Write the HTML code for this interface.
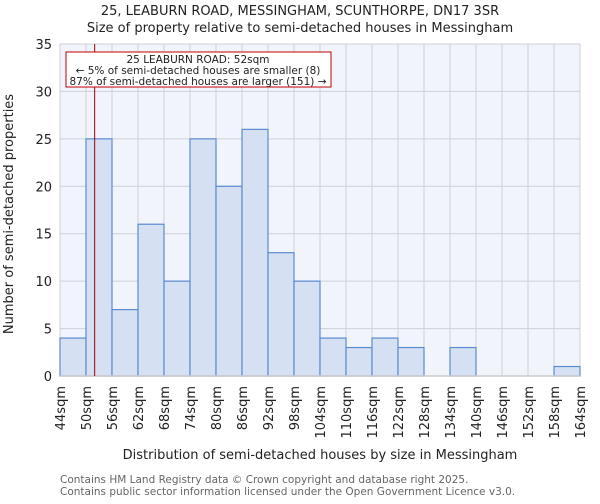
<!DOCTYPE html>
<html><head><meta charset="utf-8"><style>
body{margin:0;background:#fff;font-family:"DejaVu Sans","Liberation Sans",sans-serif}
</style></head><body>
<svg width="600" height="500" xmlns="http://www.w3.org/2000/svg" font-family="DejaVu Sans, Liberation Sans, sans-serif">
<text x="300" y="15" text-anchor="middle" font-size="13" fill="#222">25, LEABURN ROAD, MESSINGHAM, SCUNTHORPE, DN17 3SR</text>
<text x="300" y="32" text-anchor="middle" font-size="13" fill="#222">Size of property relative to semi-detached houses in Messingham</text>
<rect x="60" y="44" width="520" height="332" fill="#f1f4fb"/>
<g id="grid"></g><g id="bars"></g><g id="axes"></g>
<line id="marker" stroke="#a00000" stroke-width="1"/>
<rect x="66" y="52" width="265" height="35" fill="#fff" stroke="#c00000" stroke-width="1"/>
<text x="198" y="63" text-anchor="middle" font-size="10.5" fill="#222">25 LEABURN ROAD: 52sqm</text>
<text x="198" y="74" text-anchor="middle" font-size="10.5" fill="#222">← 5% of semi-detached houses are smaller (8)</text>
<text x="198" y="85" text-anchor="middle" font-size="10.5" fill="#222">87% of semi-detached houses are larger (151) →</text>
<text transform="translate(13,214) rotate(-90)" text-anchor="middle" font-size="13" fill="#222">Number of semi-detached properties</text>
<text x="320" y="459" text-anchor="middle" font-size="13" fill="#222">Distribution of semi-detached houses by size in Messingham</text>
<text x="60" y="483" font-size="10.5" fill="#666">Contains HM Land Registry data © Crown copyright and database right 2025.</text>
<text x="60" y="495" font-size="10.5" fill="#666">Contains public sector information licensed under the Open Government Licence v3.0.</text>
</svg>
<script>
const binEdges=[44,50,56,62,68,74,80,86,92,98,104,110,116,122,128,134,140,146,152,158,164];
const counts=[4,25,7,16,10,25,20,26,13,10,4,3,4,3,0,3,0,0,0,1];
const yTicks=[0,5,10,15,20,25,30,35];
const propertySize=52;
const X0=60,X1=580,Y0=376,Y1=44,xMin=44,xMax=164,yMax=35;
const NS="http://www.w3.org/2000/svg";
const xs=v=>X0+(v-xMin)/(xMax-xMin)*(X1-X0);
const ys=v=>Y0-v/yMax*(Y0-Y1);
function mk(t,a,p){const e=document.createElementNS(NS,t);for(const k in a)e.setAttribute(k,a[k]);p.appendChild(e);return e;}
const grid=document.getElementById('grid'),bars=document.getElementById('bars'),axes=document.getElementById('axes');
yTicks.forEach(t=>{
 const l=mk('line',{x1:X0,x2:X1,y1:ys(t),y2:ys(t),stroke:'#d0d0d8','stroke-width':1},grid);
 
 
 const tx=mk('text',{x:X0-8,y:ys(t)+5,'text-anchor':'end','font-size':13,fill:'#222'},axes);
 tx.textContent=t;
 
 
});
binEdges.forEach(b=>{
 const l=mk('line',{x1:xs(b),x2:xs(b),y1:Y1,y2:Y0,stroke:'#d0d0d8','stroke-width':1},grid);
 
 
 const x=xs(b)+5;
 const tx=mk('text',{transform:`translate(${x},386) rotate(-90)`,'text-anchor':'end','font-size':13,fill:'#222'},axes);
 tx.textContent=b+'sqm';
 
 
});
counts.forEach((c,i)=>{
 if(c<=0)return;
 const x=xs(binEdges[i]),w=xs(binEdges[i+1])-x;
 const r=mk('rect',{x:x,y:ys(c),width:w,height:Y0-ys(c),fill:'#d6e0f3',stroke:'#5b8bd0','stroke-width':1.2},bars);
 
 
});
const ax=mk('line',{x1:X0,x2:X1,y1:Y0,y2:Y0,stroke:'#cccccc','stroke-width':1.5},axes);


const m=document.getElementById('marker');
m.setAttribute('x1',xs(propertySize));m.setAttribute('x2',xs(propertySize));
m.setAttribute('y1',Y1);m.setAttribute('y2',Y0);
</script>
</body></html>
